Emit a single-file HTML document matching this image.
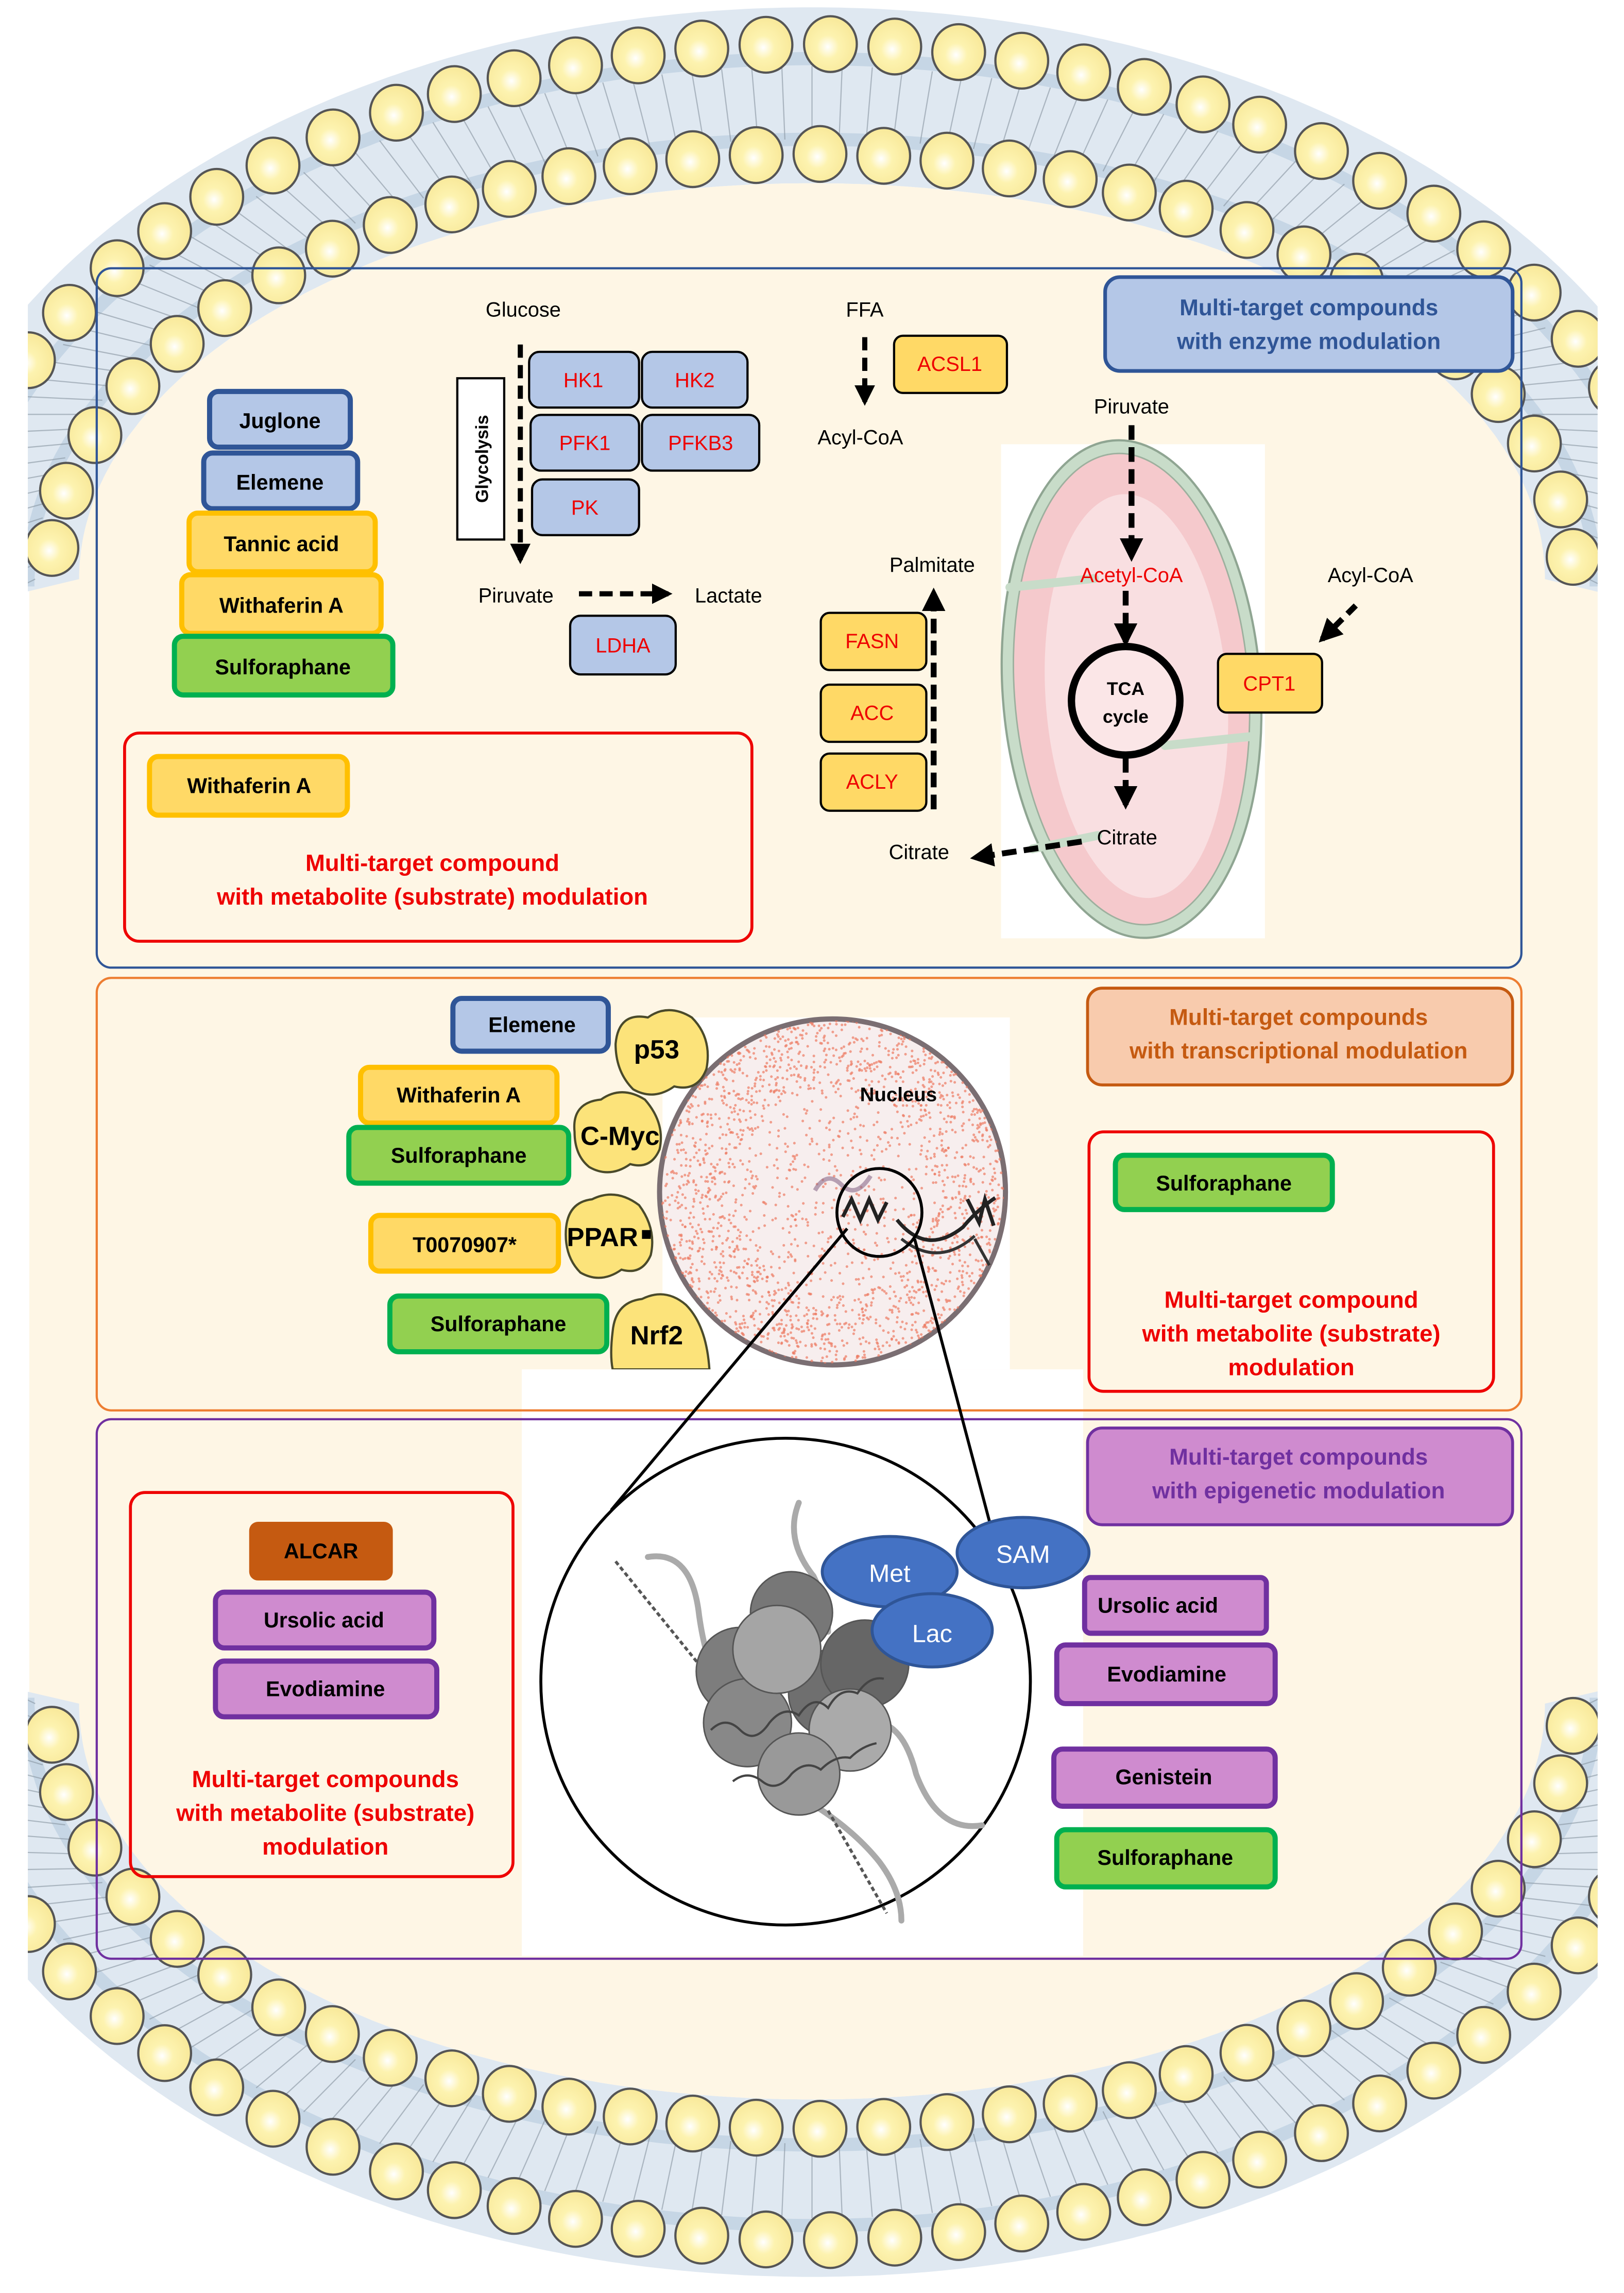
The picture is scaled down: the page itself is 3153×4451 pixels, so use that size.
<!DOCTYPE html>
<html><head><meta charset="utf-8">
<style>
html,body{margin:0;padding:0;background:#fff;}
svg{display:block;}
text{font-family:"Liberation Sans",Arial,sans-serif;}
</style></head>
<body>
<svg id="s" xmlns="http://www.w3.org/2000/svg" width="3153" height="4451" viewBox="0 0 1108 1564" preserveAspectRatio="none">
<defs>
<marker id="ah" viewBox="0 0 10 10" refX="8" refY="5" markerWidth="4" markerHeight="4" orient="auto"><path d="M0,0 L10,5 L0,10 z" fill="#000"/></marker>
<radialGradient id="hg" cx="0.45" cy="0.55" r="0.7"><stop offset="0" stop-color="#ffffff"/><stop offset="0.3" stop-color="#fdf3b0"/><stop offset="1" stop-color="#f6e490"/></radialGradient>
<clipPath id="nc"><circle cx="568" cy="813" r="117"/></clipPath>
<clipPath id="mc"><rect x="19" y="0" width="1071" height="1564"/></clipPath>
</defs>
<rect width="1108" height="1564" fill="#fff"/>
<rect x="20" y="300" width="1070" height="1000" fill="#fef6e5"/>
<g id="mem" clip-path="url(#mc)"></g>

<!-- Box 1 -->
<rect x="66" y="183" width="972" height="477" rx="10" fill="none" stroke="#2f5597" stroke-width="1.5"/>
<rect x="754" y="189" width="278" height="64" rx="10" fill="#b4c7e7" stroke="#2f5597" stroke-width="2.5"/>
<text x="893" y="215" text-anchor="middle" font-weight="bold" font-size="15.5" fill="#2f5597">Multi-target compounds</text>
<text x="893" y="238" text-anchor="middle" font-weight="bold" font-size="15.5" fill="#2f5597">with enzyme modulation</text>

<g stroke-width="3.5">
<rect x="143" y="267" width="96" height="38" rx="6" fill="#b4c7e7" stroke="#2f5597"/>
<rect x="139" y="309" width="105" height="38" rx="6" fill="#b4c7e7" stroke="#2f5597"/>
<rect x="129" y="350" width="127" height="40" rx="6" fill="#ffd966" stroke="#ffc000"/>
<rect x="124" y="392" width="136" height="40" rx="6" fill="#ffd966" stroke="#ffc000"/>
<rect x="119" y="434" width="149" height="40" rx="6" fill="#92d050" stroke="#00b050"/>
</g>
<g font-size="14.5" text-anchor="middle" font-weight="bold">
<text x="191" y="292">Juglone</text>
<text x="191" y="334">Elemene</text>
<text x="192" y="376">Tannic acid</text>
<text x="192" y="418">Withaferin A</text>
<text x="193" y="460">Sulforaphane</text>
</g>

<text x="357" y="216" text-anchor="middle" font-size="14">Glucose</text>
<rect x="312" y="258" width="32" height="110" fill="#fff" stroke="#000" stroke-width="1.5"/>
<text transform="translate(333,313) rotate(-90)" text-anchor="middle" font-size="12" font-weight="bold">Glycolysis</text>
<line x1="355" y1="235" x2="355" y2="382" stroke="#000" stroke-width="3.5" stroke-dasharray="9,5" marker-end="url(#ah)"/>
<g fill="#b4c7e7" stroke="#000" stroke-width="1.5">
<rect x="361" y="240" width="75" height="38" rx="7"/>
<rect x="438" y="240" width="72" height="38" rx="7"/>
<rect x="362" y="283" width="74" height="38" rx="7"/>
<rect x="438" y="283" width="80" height="38" rx="7"/>
<rect x="363" y="327" width="73" height="38" rx="7"/>
<rect x="389" y="420" width="72" height="40" rx="7"/>
</g>
<g fill="#e00" font-size="14" text-anchor="middle">
<text x="398" y="264">HK1</text><text x="474" y="264">HK2</text>
<text x="399" y="307">PFK1</text><text x="478" y="307">PFKB3</text>
<text x="399" y="351">PK</text><text x="425" y="445">LDHA</text>
</g>
<text x="352" y="411" text-anchor="middle" font-size="14">Piruvate</text>
<line x1="395" y1="405" x2="456" y2="405" stroke="#000" stroke-width="3.5" stroke-dasharray="9,5" marker-end="url(#ah)"/>
<text x="497" y="411" text-anchor="middle" font-size="14">Lactate</text>

<text x="590" y="216" text-anchor="middle" font-size="14">FFA</text>
<line x1="590" y1="230" x2="590" y2="274" stroke="#000" stroke-width="3.5" stroke-dasharray="9,5" marker-end="url(#ah)"/>
<rect x="610" y="229" width="77" height="39" rx="6" fill="#ffd966" stroke="#000" stroke-width="1.5"/>
<text x="648" y="253" text-anchor="middle" font-size="14" fill="#e00">ACSL1</text>
<text x="587" y="303" text-anchor="middle" font-size="14">Acyl-CoA</text>

<rect x="683" y="303" width="180" height="337" fill="#fff"/>
<g transform="rotate(-4 772 470)">
<ellipse cx="772" cy="470" rx="88" ry="170" fill="#c8dcc9" stroke="#8fa592" stroke-width="1.5"/>
<ellipse cx="772" cy="470" rx="80" ry="161" fill="#f5c9cc" stroke="#9db09e" stroke-width="1"/>
<ellipse cx="775" cy="475" rx="62" ry="138" fill="#f9dfe1"/>
<path d="M694,395 L752,393" stroke="#c8dcc9" stroke-width="6" stroke-linecap="round"/>
<path d="M792,510 L850,508" stroke="#c8dcc9" stroke-width="6" stroke-linecap="round"/>
<path d="M697,574 L742,568" stroke="#c8dcc9" stroke-width="6" stroke-linecap="round"/>
</g>
<text x="772" y="282" text-anchor="middle" font-size="14">Piruvate</text>
<line x1="772" y1="290" x2="772" y2="380" stroke="#000" stroke-width="4" stroke-dasharray="10,5" marker-end="url(#ah)"/>
<text x="772" y="397" text-anchor="middle" font-size="14" fill="#e00">Acetyl-CoA</text>
<line x1="768" y1="403" x2="768" y2="438" stroke="#000" stroke-width="4" stroke-dasharray="10,5" marker-end="url(#ah)"/>
<circle cx="768" cy="478" r="37" fill="#fbe6e7" stroke="#000" stroke-width="5"/>
<text x="768" y="474" text-anchor="middle" font-size="12.5" font-weight="bold">TCA</text>
<text x="768" y="493" text-anchor="middle" font-size="12.5" font-weight="bold">cycle</text>
<line x1="768" y1="517" x2="768" y2="549" stroke="#000" stroke-width="4" stroke-dasharray="10,5" marker-end="url(#ah)"/>
<text x="769" y="576" text-anchor="middle" font-size="14">Citrate</text>
<line x1="738" y1="574" x2="665" y2="585" stroke="#000" stroke-width="4" stroke-dasharray="10,5" marker-end="url(#ah)"/>
<text x="627" y="586" text-anchor="middle" font-size="14">Citrate</text>
<text x="636" y="390" text-anchor="middle" font-size="14">Palmitate</text>
<line x1="637" y1="552" x2="637" y2="404" stroke="#000" stroke-width="4" stroke-dasharray="10,5" marker-end="url(#ah)"/>
<g fill="#ffd966" stroke="#000" stroke-width="1.5">
<rect x="560" y="418" width="72" height="39" rx="6"/>
<rect x="560" y="467" width="72" height="39" rx="6"/>
<rect x="560" y="514" width="72" height="39" rx="6"/>
<rect x="831" y="446" width="71" height="40" rx="6"/>
</g>
<g fill="#e00" font-size="14" text-anchor="middle">
<text x="595" y="442">FASN</text><text x="595" y="491">ACC</text><text x="595" y="538">ACLY</text><text x="866" y="471">CPT1</text>
</g>
<text x="935" y="397" text-anchor="middle" font-size="14">Acyl-CoA</text>
<line x1="925" y1="413" x2="902" y2="436" stroke="#000" stroke-width="4" stroke-dasharray="8,5" marker-end="url(#ah)"/>

<rect x="85" y="500" width="428" height="142" rx="10" fill="none" stroke="#e00" stroke-width="2"/>
<rect x="102" y="516" width="135" height="40" rx="6" fill="#ffd966" stroke="#ffc000" stroke-width="3.5"/>
<text x="170" y="541" text-anchor="middle" font-size="14.5" font-weight="bold">Withaferin A</text>
<text x="295" y="594" text-anchor="middle" font-size="16" font-weight="bold" fill="#e00">Multi-target compound</text>
<text x="295" y="617" text-anchor="middle" font-size="16" font-weight="bold" fill="#e00">with metabolite (substrate) modulation</text>

<rect x="66" y="667" width="972" height="295" rx="10" fill="none" stroke="#ed7d31" stroke-width="1.5"/>
<rect x="742" y="674" width="290" height="66" rx="10" fill="#f8cbad" stroke="#c55a11" stroke-width="2"/>
<text x="886" y="699" text-anchor="middle" font-size="15.5" font-weight="bold" fill="#c55a11">Multi-target compounds</text>
<text x="886" y="722" text-anchor="middle" font-size="15.5" font-weight="bold" fill="#c55a11">with transcriptional modulation</text>

<rect x="452" y="694" width="237" height="240" fill="#fff"/>
<circle cx="568" cy="813" r="118" fill="#f7eeee" stroke="#7a6e72" stroke-width="3.5"/>
<g id="dots" clip-path="url(#nc)"></g>
<text x="613" y="751" text-anchor="middle" font-size="13.5" font-weight="bold">Nucleus</text>
<path d="M556,812 q8,-14 18,-4 q10,10 20,-6" fill="none" stroke="#8a6a8a" stroke-width="3" opacity="0.6"/>
<path d="M575,830 l6,-12 l6,14 l6,-14 l6,14 l6,-12 M612,832 q20,25 45,5 q10,-12 22,-20 M660,818 l8,16 l4,-16 l6,18" fill="none" stroke="#222" stroke-width="2.5"/>
<path d="M615,845 q25,20 50,-2 M665,845 l10,18" fill="none" stroke="#333" stroke-width="2"/>
<ellipse cx="600" cy="827" rx="29" ry="30" fill="none" stroke="#000" stroke-width="2"/>

<g stroke="#4a4a2a" stroke-width="1.5" fill="#fce37a">
<path d="M420,712 q2,-22 22,-18 q14,-10 30,0 q14,14 10,35 q-6,16 -22,12 q-14,10 -28,2 q-12,-12 -12,-31z"/>
<path d="M392,772 q-2,-20 18,-22 q14,-10 30,0 q14,16 10,34 q-6,14 -20,10 q-14,10 -28,2 q-10,-8 -10,-24z"/>
<path d="M386,842 q0,-22 18,-24 q16,-8 32,4 q12,16 8,34 q-6,14 -20,10 q-14,10 -28,2 q-10,-10 -10,-26z"/>
<path d="M418,908 q2,-20 20,-22 q16,-8 30,4 q14,14 16,44 l-66,0 q-2,-10 0,-26z"/>
</g>
<g font-size="18" font-weight="bold" text-anchor="middle">
<text x="448" y="722">p53</text><text x="423" y="781">C-Myc</text><text x="411" y="850">PPAR</text><text x="448" y="917">Nrf2</text>
</g>
<rect x="438" y="839" width="6" height="6" fill="#000"/>
<g stroke-width="3.5">
<rect x="309" y="681" width="106" height="36" rx="6" fill="#b4c7e7" stroke="#2f5597"/>
<rect x="246" y="728" width="134" height="38" rx="6" fill="#ffd966" stroke="#ffc000"/>
<rect x="238" y="769" width="150" height="38" rx="6" fill="#92d050" stroke="#00b050"/>
<rect x="253" y="829" width="128" height="38" rx="6" fill="#ffd966" stroke="#ffc000"/>
<rect x="266" y="884" width="148" height="38" rx="6" fill="#92d050" stroke="#00b050"/>
</g>
<g font-size="14.5" font-weight="bold" text-anchor="middle">
<text x="363" y="704">Elemene</text><text x="313" y="752">Withaferin A</text><text x="313" y="793">Sulforaphane</text>
<text x="317" y="854">T0070907*</text><text x="340" y="908">Sulforaphane</text>
</g>
<rect x="743" y="772" width="276" height="177" rx="10" fill="none" stroke="#e00" stroke-width="2"/>
<rect x="761" y="788" width="148" height="37" rx="6" fill="#92d050" stroke="#00b050" stroke-width="3.5"/>
<text x="835" y="812" text-anchor="middle" font-size="14.5" font-weight="bold">Sulforaphane</text>
<g fill="#e00" font-size="16" font-weight="bold" text-anchor="middle">
<text x="881" y="892">Multi-target compound</text><text x="881" y="915">with metabolite (substrate)</text><text x="881" y="938">modulation</text>
</g>

<rect x="356" y="934" width="383" height="400" fill="#fff"/>
<rect x="66" y="968" width="972" height="368" rx="10" fill="none" stroke="#7030a0" stroke-width="1.5"/>
<line x1="356" y1="962" x2="739" y2="962" stroke="#ed7d31" stroke-width="1.5"/>
<rect x="742" y="974" width="290" height="66" rx="10" fill="#cf8bcf" stroke="#7030a0" stroke-width="2"/>
<text x="886" y="999" text-anchor="middle" font-size="15.5" font-weight="bold" fill="#7030a0">Multi-target compounds</text>
<text x="886" y="1022" text-anchor="middle" font-size="15.5" font-weight="bold" fill="#7030a0">with epigenetic modulation</text>

<line x1="578" y1="838" x2="417" y2="1030" stroke="#000" stroke-width="2"/>
<line x1="624" y1="845" x2="677" y2="1045" stroke="#000" stroke-width="2"/>
<ellipse cx="536" cy="1147" rx="167" ry="166" fill="#fff" stroke="#000" stroke-width="2"/>
<g fill="none" stroke="#aaa" stroke-width="4" stroke-linecap="round">
<path d="M545,1025 q-10,25 10,50 q10,20 10,38"/>
<path d="M442,1062 q30,-5 35,40 q5,35 15,45"/>
<path d="M590,1175 q25,-5 35,35 q15,40 45,35"/>
<path d="M545,1225 q35,20 55,45 q15,20 15,40"/>
</g>
<g fill="none" stroke="#555" stroke-width="2" stroke-dasharray="3,2">
<path d="M420,1065 L505,1170"/><path d="M565,1235 L605,1305"/>
</g>
<g stroke="#555" stroke-width="1">
<circle cx="540" cy="1100" r="28" fill="#777"/>
<circle cx="505" cy="1140" r="30" fill="#7d7d7d"/>
<circle cx="510" cy="1175" r="30" fill="#888"/>
<circle cx="568" cy="1155" r="30" fill="#6f6f6f"/>
<circle cx="530" cy="1125" r="30" fill="#a5a5a5"/>
<circle cx="590" cy="1135" r="30" fill="#666"/>
<circle cx="580" cy="1180" r="28" fill="#aaa"/>
<circle cx="545" cy="1210" r="28" fill="#999"/>
</g>
<path d="M485,1180 q10,-10 20,0 q10,10 20,-5 q10,-12 20,-5 q10,-15 20,-5 q8,-15 20,-10 q8,-12 18,-10 M500,1215 q10,-8 20,0 q10,8 20,-5 q10,-10 20,-3 q10,-10 20,-8 q8,-8 18,-10" fill="none" stroke="#444" stroke-width="1.5"/>
<g stroke="#2f5597" stroke-width="2" fill="#4472c4">
<ellipse cx="698" cy="1059" rx="45" ry="24"/>
<ellipse cx="607" cy="1072" rx="46" ry="24"/>
<ellipse cx="636" cy="1112" rx="41" ry="25"/>
</g>
<g fill="#fff" font-size="17" text-anchor="middle">
<text x="698" y="1066">SAM</text><text x="607" y="1079">Met</text><text x="636" y="1120">Lac</text>
</g>

<rect x="89" y="1018" width="261" height="262" rx="10" fill="none" stroke="#e00" stroke-width="2"/>
<rect x="170" y="1038" width="98" height="40" rx="6" fill="#c55a11"/>
<text x="219" y="1063" text-anchor="middle" font-size="14.5" font-weight="bold">ALCAR</text>
<g stroke="#7030a0" stroke-width="3.5" fill="#cf8bcf">
<rect x="147" y="1086" width="149" height="38" rx="6"/>
<rect x="147" y="1133" width="151" height="38" rx="6"/>
<rect x="740" y="1076" width="124" height="38" rx="4"/>
<rect x="721" y="1122" width="149" height="40" rx="6"/>
<rect x="719" y="1193" width="151" height="39" rx="6"/>
</g>
<rect x="721" y="1248" width="149" height="39" rx="6" fill="#92d050" stroke="#00b050" stroke-width="3.5"/>
<g font-size="14.5" font-weight="bold" text-anchor="middle">
<text x="221" y="1110">Ursolic acid</text><text x="222" y="1157">Evodiamine</text>
<text x="790" y="1100">Ursolic acid</text><text x="796" y="1147">Evodiamine</text>
<text x="794" y="1217">Genistein</text><text x="795" y="1272">Sulforaphane</text>
</g>
<g fill="#e00" font-size="16" font-weight="bold" text-anchor="middle">
<text x="222" y="1219">Multi-target compounds</text><text x="222" y="1242">with metabolite (substrate)</text><text x="222" y="1265">modulation</text>
</g>
</svg>
<script>
(function(){
var NS="http://www.w3.org/2000/svg";
var mem=document.getElementById("mem");
function el(t,attrs){var e=document.createElementNS(NS,t);for(var k in attrs)e.setAttribute(k,attrs[k]);mem.appendChild(e);return e;}
function arc(cx,cy,rx,ry,sign){var p=[],N=300;for(var i=0;i<=N;i++){var a=Math.PI-i*Math.PI/N;p.push([cx+rx*Math.cos(a),cy+sign*ry*Math.sin(a)]);}return p;}
function pts(p){return p.map(function(q){return q[0].toFixed(1)+","+q[1].toFixed(1);}).join(" L");}
function band(o,i){return "M"+pts(o)+" L"+pts(i.slice().reverse())+"Z";}
var oT=arc(554,425,625,420,-1), iT=arc(554,395,500,270,-1);
var oB=arc(554,1133,625,420,1), iB=arc(554,1162,500,270,1);
[ [oT,iT],[oB,iB] ].forEach(function(pr){
  el("path",{d:band(pr[0],pr[1]),fill:"#dfe8f1"});
  el("path",{d:"M"+pts(pr[1])+"Z",fill:"#fef6e5"});
});
el("path",{d:"M"+pts(arc(554,420,585,380,-1)),fill:"none",stroke:"#c6d6e5","stroke-width":"9"});
el("path",{d:"M"+pts(arc(554,400,535,305,-1)),fill:"none",stroke:"#c6d6e5","stroke-width":"9"});
el("path",{d:"M"+pts(arc(554,1138,585,380,1)),fill:"none",stroke:"#c6d6e5","stroke-width":"9"});
el("path",{d:"M"+pts(arc(554,1158,535,305,1)),fill:"none",stroke:"#c6d6e5","stroke-width":"9"});
function tails(cA,rxA,ryA,cB,rxB,ryB,sign){
  for(var k=0;k<=90;k++){var a=Math.PI-k*Math.PI/90;
    var x1=554+rxA*Math.cos(a),y1=cA+sign*ryA*Math.sin(a),x2=554+rxB*Math.cos(a),y2=cB+sign*ryB*Math.sin(a);
    el("line",{x1:x1,y1:y1,x2:x2,y2:y2,stroke:"#8894a0","stroke-width":"0.8",opacity:"0.6"});}
}
tails(425,590,380,395,530,300,-1);
tails(1133,590,380,1162,530,300,1);
function heads(p,sp){
  var acc=sp/2,i;
  for(i=1;i<p.length;i++){
    var dx=p[i][0]-p[i-1][0],dy=p[i][1]-p[i-1][1];acc+=Math.sqrt(dx*dx+dy*dy);
    if(acc>=sp){acc=0;var x=p[i][0],y=p[i][1];
      if(x<-5||x>1113)continue;
      el("ellipse",{cx:x,cy:y,rx:18,ry:19,fill:"url(#hg)",stroke:"#555","stroke-width":"1.5"});
    }
  }
}
heads(arc(554,425,600,395,-1),41);heads(arc(554,395,520,290,-1),40);
heads(arc(554,1133,600,395,1),41);heads(arc(554,1162,520,290,1),40);
var g=document.getElementById("dots"),s=12345;
function r(){s=(s*16807)%2147483647;return s/2147483647;}
for(var i=0;i<2600;i++){
  var a=r()*Math.PI*2,rr=Math.sqrt(r())*118;
  if(rr<70&&r()<0.55)continue;
  var c=document.createElementNS(NS,"circle");
  c.setAttribute("cx",568+rr*Math.cos(a));c.setAttribute("cy",813+rr*Math.sin(a));
  c.setAttribute("r",0.9);c.setAttribute("fill","#ec7a62");c.setAttribute("opacity","0.7");
  g.appendChild(c);
}
})();
</script>
</body></html>
